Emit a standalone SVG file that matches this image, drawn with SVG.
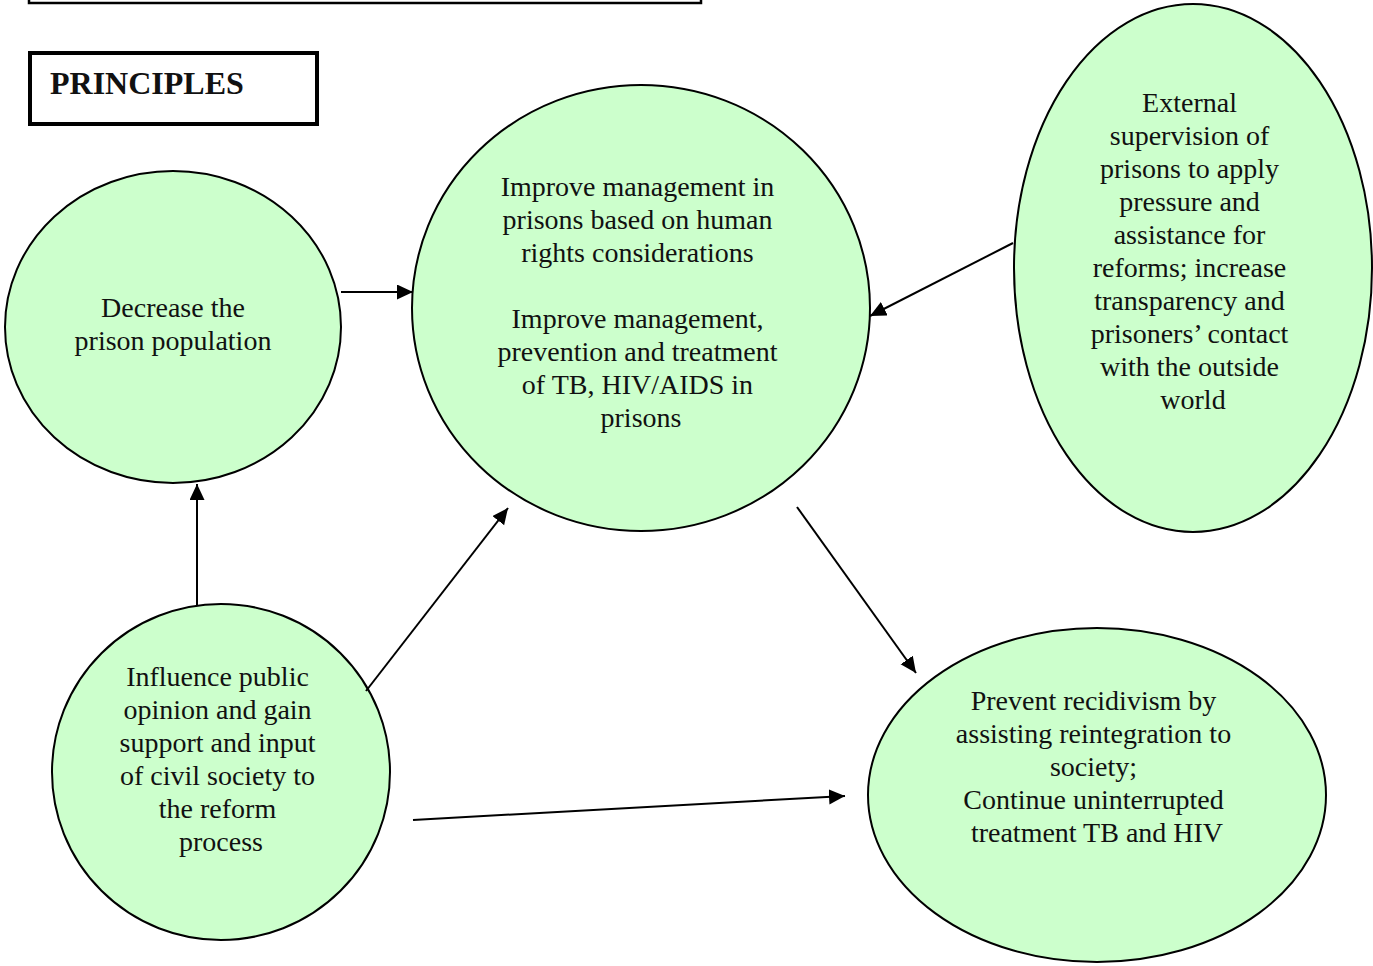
<svg xmlns="http://www.w3.org/2000/svg" width="1373" height="966" viewBox="0 0 1373 966">
  <style>
    .node { fill: #ccffcc; stroke: #000; stroke-width: 2; }
    .label { font-family: "Liberation Serif", "Times New Roman", serif; font-size: 28px; fill: #111; text-anchor: middle; }
    .edge { stroke: #000; stroke-width: 2; fill: none; marker-end: url(#arrow); }
    .frame { fill: #fff; stroke: #000; }
  </style>
  <defs>
    <marker id="arrow" markerUnits="userSpaceOnUse" markerWidth="17" markerHeight="16" refX="16" refY="7.5" orient="auto">
      <path d="M0,0 L16,7.5 L0,15 Z" fill="#000"/>
    </marker>
  </defs>

  <rect width="1373" height="966" fill="#fff"/>

  <!-- heading boxes -->
  <g id="top-frame">
    <rect class="frame" x="29" y="-20" width="672" height="23" stroke-width="2.5"/>
  </g>
  <g id="principles">
    <rect class="frame" x="30" y="53" width="287" height="71" stroke-width="4"/>
    <text x="50" y="94" font-family="Liberation Serif, 'Times New Roman', serif" font-size="32" font-weight="bold" fill="#111">PRINCIPLES</text>
  </g>

  <!-- nodes -->
  <g id="decrease">
    <ellipse class="node" cx="173" cy="327" rx="168" ry="156"/>
    <text class="label"><tspan x="173" y="317">Decrease the</tspan><tspan x="173" y="350">prison population</tspan></text>
  </g>

  <g id="improve">
    <ellipse class="node" cx="641" cy="308" rx="229" ry="223"/>
    <text class="label">
      <tspan x="641" y="196">Improve management in</tspan>
      <tspan x="641" y="229">prisons based on human</tspan>
      <tspan x="641" y="262">rights considerations</tspan>
      <tspan x="641" y="328">Improve management,</tspan>
      <tspan x="641" y="361">prevention and treatment</tspan>
      <tspan x="641" y="394">of TB, HIV/AIDS in</tspan>
      <tspan x="641" y="427">prisons</tspan>
    </text>
  </g>

  <g id="supervision">
    <ellipse class="node" cx="1193" cy="268" rx="179" ry="264"/>
    <text class="label">
      <tspan x="1193" y="112">External</tspan>
      <tspan x="1193" y="145">supervision of</tspan>
      <tspan x="1193" y="178">prisons to apply</tspan>
      <tspan x="1193" y="211">pressure and</tspan>
      <tspan x="1193" y="244">assistance for</tspan>
      <tspan x="1193" y="277">reforms; increase</tspan>
      <tspan x="1193" y="310">transparency and</tspan>
      <tspan x="1193" y="343">prisoners’ contact</tspan>
      <tspan x="1193" y="376">with the outside</tspan>
      <tspan x="1193" y="409">world</tspan>
    </text>
  </g>

  <g id="influence">
    <ellipse class="node" cx="221" cy="772" rx="169" ry="168"/>
    <text class="label">
      <tspan x="221" y="686">Influence public</tspan>
      <tspan x="221" y="719">opinion and gain</tspan>
      <tspan x="221" y="752">support and input</tspan>
      <tspan x="221" y="785">of civil society to</tspan>
      <tspan x="221" y="818">the reform</tspan>
      <tspan x="221" y="851">process</tspan>
    </text>
  </g>

  <g id="recidivism">
    <ellipse class="node" cx="1097" cy="795" rx="229" ry="167"/>
    <text class="label">
      <tspan x="1097" y="710">Prevent recidivism by</tspan>
      <tspan x="1097" y="743">assisting reintegration to</tspan>
      <tspan x="1097" y="776">society;</tspan>
      <tspan x="1097" y="809">Continue uninterrupted</tspan>
      <tspan x="1097" y="842">treatment TB and HIV</tspan>
    </text>
  </g>

  <!-- connectors -->
  <g id="connectors">
    <line class="edge" x1="341" y1="292" x2="413" y2="292"/>
    <line class="edge" x1="1013" y1="243" x2="870" y2="316"/>
    <line class="edge" x1="197" y1="605" x2="197" y2="484"/>
    <line class="edge" x1="366" y1="691" x2="508" y2="508"/>
    <line class="edge" x1="797" y1="507" x2="916" y2="673"/>
    <line class="edge" x1="413" y1="820" x2="845" y2="796"/>
  </g>
</svg>
